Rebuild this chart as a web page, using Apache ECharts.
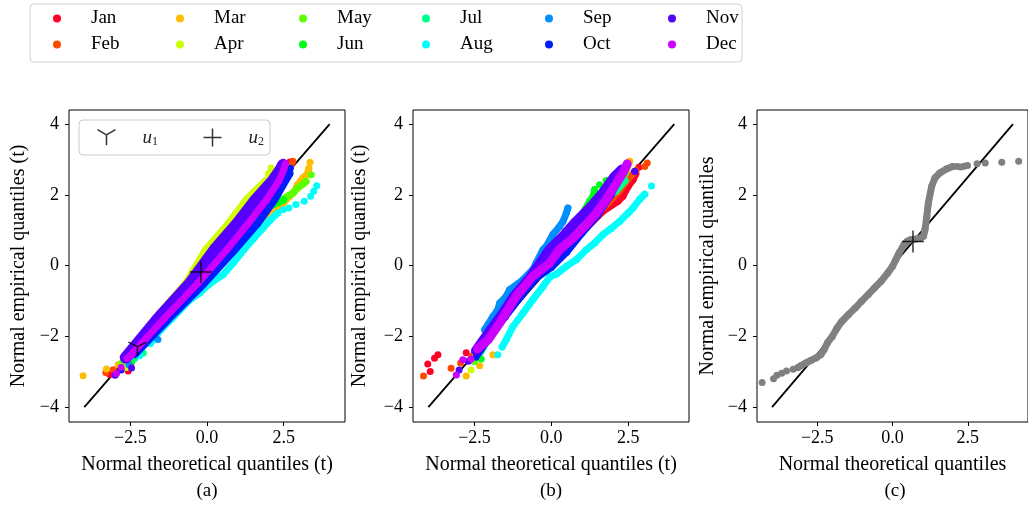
<!DOCTYPE html>
<html>
<head>
<meta charset="utf-8">
<script src="https://cdn.jsdelivr.net/npm/echarts@6/dist/echarts.min.js"></script>
<style>
  html, body { margin: 0; padding: 0; background: #fff; }
  #main { width: 1028px; height: 506px; }
</style>
</head>
<body>
<div id="main"></div>
<script>
// === Meses y colores (gist_rainbow) ===
const MONTHS = ['Jan','Feb','Mar','Apr','May','Jun','Jul','Aug','Sep','Oct','Nov','Dec'];
const COLORS = ['#ff0029','#ff4900','#ffbc00','#cfff00','#5cff00','#00ff17',
                '#00ff89','#00fffb','#008fff','#001cff','#5800ff','#cc00ff'];
const GRAY = '#808080';

// === Ejes ===
const X_TICKS = [-2.5, 0, 2.5];
const Y_TICKS = [-4, -2, 0, 2, 4];
const REF_LINE = [[-4, -4], [4, 4]];

// === Marcadores u1 / u2 ===
const U1_A = [[-2.27, -2.28]];
const U2_A = [[-0.2, -0.18]];
const U2_C = [[0.68, 0.68]];

// === Panel (a) : cuantiles por mes ('-' = hueco entre puntos sueltos) ===
const A_JAN = [[-3.17,-3.08],'-',[-2.57,-2.98],'-',[-2.48,-2.75],'-',[-2.35,-2.4],[-2.0,-2.0],[-1.0,-0.98],[0.0,0.02],[0.45,0.45],[1.0,1.12],[1.6,1.82],[1.99,2.2],[2.04,2.34],[2.15,2.5],[2.26,2.64],[2.37,2.79],'-',[2.6,2.88],'-',[2.7,2.93]];
const A_FEB = [[-3.3,-3.02],'-',[-3.06,-2.94],'-',[-2.85,-2.8],'-',[-1.72,-2.06],'-',[-2.6,-2.55],[-2.0,-2.0],[-1.0,-1.0],[0.0,0.0],[0.45,0.45],[1.0,1.05],[1.6,1.72],[2.0,2.22],[2.3,2.52],[2.55,2.75],'-',[2.75,2.85],'-',[2.8,2.95]];
const A_MAR = [[-4.04,-3.11],'-',[-3.28,-2.92],'-',[-2.9,-2.8],'-',[-2.6,-2.55],[-2.0,-2.05],[-1.0,-1.05],[0.0,-0.05],[0.5,0.45],[1.0,0.85],[1.6,1.15],[1.83,1.25],[2.04,1.4],[2.26,1.54],[2.48,1.77],[2.69,1.96],[2.85,2.1],[2.96,2.29],[3.12,2.47],[3.28,2.6],[3.32,2.75],'-',[3.36,2.92]];
const A_APR = [[-2.62,-2.88],'-',[-2.55,-2.5],[-1.7,-1.5],[-0.7,-0.5],[-0.05,0.45],[0.7,1.2],[1.28,1.87],[1.55,2.1],[1.9,2.4],'-',[2.0,2.6],'-',[2.09,2.76]];
const A_MAY = [[-2.78,-2.75],'-',[-2.5,-2.45],[-2.0,-1.98],[-1.0,-0.95],[0.0,0.08],[0.4,0.45],[1.0,1.0],[1.7,1.55],[2.1,1.72],[2.37,1.82],[2.6,1.95],[2.8,2.05],[2.96,2.2],[3.12,2.3],[3.23,2.38],'-',[3.4,2.57]];
const A_JUN = [[-2.45,-2.7],'-',[-2.2,-2.25],[-1.5,-1.45],[-0.6,-0.55],[0.4,0.42],[1.2,1.2],[1.8,1.62],[2.15,1.72],[2.35,1.8],[2.5,1.86]];
const A_JUL = [[-2.35,-2.62],'-',[-2.08,-2.47],'-',[-2.05,-2.05],[-1.5,-1.52],[-0.8,-0.85],[0.0,-0.08],[0.8,0.75],[1.6,1.6],[2.1,2.05],[2.3,2.3]];
const A_AUG = [[-2.2,-2.55],'-',[-1.85,-2.2],[-1.6,-1.9],[-1.15,-1.5],[-0.6,-1.0],[-0.24,-0.77],[0.1,-0.5],[0.53,-0.25],[0.86,0.08],[1.2,0.45],[1.5,0.75],[1.78,1.02],[2.05,1.28],[2.31,1.49],'-',[2.48,1.58],'-',[2.67,1.63],'-',[2.9,1.73],'-',[3.17,1.82],'-',[3.38,1.96],'-',[3.48,2.1],'-',[3.58,2.26]];
const A_SEP = [[-2.55,-2.8],'-',[-2.4,-2.5],[-2.0,-2.08],'-',[-1.6,-2.09],'-',[-1.5,-1.55],[-1.0,-1.05],[-0.4,-0.5],[0.4,0.35],[0.9,0.9],[1.3,1.5],'-',[1.45,1.81],'-',[1.7,1.9],[2.1,2.2],[2.4,2.52]];
const A_OCT = [[-2.8,-2.95],'-',[-2.35,-2.5],[-1.25,-1.5],[-0.1,-0.5],[0.9,0.45],[1.65,1.2],[2.2,1.87],[2.55,2.4],[2.69,2.6],'-',[2.72,2.75]];
const A_NOV = [[-3.0,-3.1],'-',[-2.46,-2.89],'-',[-2.65,-2.6],[-2.55,-2.5],[-1.6,-1.5],[-0.55,-0.5],[0.25,0.45],[1.0,1.2],[1.6,1.87],[2.15,2.4],[2.4,2.71],[2.48,2.85]];
const A_DEC = [[-2.95,-3.05],'-',[-2.8,-2.88],'-',[-2.6,-2.62],[-2.45,-2.5],[-1.4,-1.5],[-0.3,-0.5],[0.65,0.45],[1.35,1.2],[1.95,1.87],[2.35,2.4],[2.5,2.71],[2.56,2.88]];

// === Panel (b) ===
const B_JAN = [[-4.02,-2.78],'-',[-3.94,-2.99],'-',[-3.8,-2.62],'-',[-3.69,-2.52],'-',[-2.77,-2.46],'-',[-2.55,-2.55],[-2.2,-2.1],[-1.6,-1.45],[-1.0,-0.78],[-0.4,-0.2],[0.3,0.35],[1.0,0.95],[1.7,1.55],[2.17,1.82],[2.33,1.96],[2.5,2.24],[2.66,2.43],[2.75,2.6],'-',[2.85,2.78]];
const B_FEB = [[-4.16,-3.12],'-',[-3.26,-2.9],'-',[-2.95,-2.75],'-',[-2.6,-2.6],[-2.0,-1.9],[-1.2,-1.0],[-0.5,-0.3],[0.5,0.55],[1.5,1.45],[2.2,2.1],[2.55,2.5],[2.75,2.68],'-',[3.04,2.8],'-',[3.12,2.9]];
const B_MAR = [[-2.77,-3.12],'-',[-2.33,-2.83],'-',[-1.9,-2.52],'-',[-2.25,-2.3],[-1.7,-1.6],[-1.0,-0.85],[-0.4,-0.2],[0.5,0.6],[1.5,1.55],[2.2,2.3],[2.45,2.7],[2.55,2.95]];
const B_APR = [[-2.61,-2.95],'-',[-2.45,-2.55],[-2.0,-1.85],[-1.5,-1.2],[-1.0,-0.62],[-0.5,-0.12],[0.2,0.55],[1.0,1.3],[1.8,2.1],[2.3,2.55],[2.5,2.86]];
const B_MAY = [[-2.5,-2.72],'-',[-2.3,-2.3],[-1.8,-1.62],[-1.3,-1.0],[-0.5,-0.2],[0.3,0.6],[1.0,1.3],[1.5,1.75],[2.0,2.2],[2.4,2.6]];
const B_JUN = [[-2.28,-2.64],'-',[-2.2,-2.15],[-1.7,-1.5],[-1.2,-0.95],[-0.5,-0.2],[0.3,0.62],[0.9,1.3],[1.25,1.82],[1.36,1.96],[1.41,2.15],'-',[1.57,2.29],'-',[1.79,2.41]];
const B_JUL = [[-2.3,-2.45],[-1.8,-1.7],[-1.3,-1.05],[-0.7,-0.35],[-0.2,0.28],[0.4,0.88],[1.0,1.38],[1.6,1.85],[2.1,2.1],[2.4,2.4]];
const B_AUG = [[-1.74,-2.52],'-',[-1.6,-2.3],[-1.47,-2.1],[-1.25,-1.72],[-0.92,-1.34],[-0.6,-0.96],[-0.27,-0.59],[-0.05,-0.32],[0.16,-0.24],[0.49,-0.02],[0.81,0.17],[1.14,0.45],[1.41,0.64],[1.68,0.88],[1.96,1.06],[2.22,1.25],[2.5,1.49],[2.66,1.63],[2.87,1.87],[3.04,2.02],'-',[3.26,2.25]];
const B_SEP = [[-2.44,-2.38],[-2.33,-2.24],'-',[-2.17,-1.81],[-1.9,-1.44],[-1.74,-1.25],[-1.68,-1.06],[-1.47,-0.87],[-1.36,-0.68],[-0.92,-0.4],[-0.6,-0.11],[-0.49,0.08],[-0.27,0.45],[-0.16,0.55],[0.05,0.88],[0.27,1.11],[0.38,1.25],[0.49,1.49],[0.54,1.63]];
const B_OCT = [[-2.45,-2.58],[-2.0,-2.02],[-1.5,-1.45],[-1.0,-0.88],[-0.5,-0.36],[0.0,-0.05],[0.5,0.38],[1.0,0.92],[1.5,1.42],[1.95,2.0],[2.15,2.4],'-',[2.71,2.67]];
const B_NOV = [[-3.0,-2.95],'-',[-2.7,-2.7],'-',[-2.45,-2.4],[-2.0,-1.85],[-1.6,-1.38],[-1.2,-0.85],[-0.7,-0.35],[-0.06,0.45],[0.38,0.83],[0.81,1.25],[1.25,1.63],[1.68,2.06],[2.06,2.52],[2.3,2.72],'-',[2.72,2.66]];
const B_DEC = [[-3.09,-3.09],'-',[-2.88,-2.66],'-',[-2.61,-2.64],'-',[-2.4,-2.35],[-2.06,-2.1],[-1.68,-1.62],[-1.14,-0.87],[-0.6,-0.3],[-0.06,0.07],[0.27,0.45],[0.71,0.78],[1.14,1.16],[1.47,1.49],[1.79,1.87],[2.12,2.33],[2.35,2.65],[2.47,2.88]];

// === Panel (c) : serie única ===
const C_ALL = [[-4.33,-3.3],'-',[-3.95,-3.2],'-',[-3.84,-3.1],'-',[-3.68,-3.04],'-',[-3.52,-2.98],'-',[-3.3,-2.93],'-',[-3.14,-2.88],[-3.03,-2.82],[-2.87,-2.75],[-2.71,-2.68],[-2.54,-2.61],[-2.38,-2.51],[-2.27,-2.37],[-2.16,-2.18],[-2.0,-2.0],[-1.84,-1.76],[-1.68,-1.57],[-1.46,-1.38],[-1.24,-1.2],[-1.03,-1.01],[-0.81,-0.82],[-0.6,-0.63],[-0.38,-0.44],[-0.16,-0.21],[0.0,-0.02],[0.11,0.17],[0.22,0.36],[0.38,0.59],[0.49,0.69],[0.6,0.73],[0.76,0.75],[0.92,0.78],[1.03,0.83],[1.08,1.02],[1.14,1.39],[1.19,1.77],[1.3,2.24],[1.41,2.48],[1.57,2.62],[1.79,2.73],[2.0,2.8],'-',[2.15,2.8],'-',[2.27,2.79],'-',[2.38,2.81],'-',[2.49,2.83],'-',[2.81,2.88],'-',[3.08,2.9],'-',[3.63,2.92],'-',[4.19,2.95]];

const PANEL_A = [A_JAN,A_FEB,A_MAR,A_APR,A_MAY,A_JUN,A_JUL,A_AUG,A_SEP,A_OCT,A_NOV,A_DEC];
const PANEL_B = [B_JAN,B_FEB,B_MAR,B_APR,B_MAY,B_JUN,B_JUL,B_AUG,B_SEP,B_OCT,B_NOV,B_DEC];

// === Estilo ===
const FONT = '"Liberation Serif", "DejaVu Serif", serif';
const BLACK = '#000';
const TRI = 'path://M10,10 L10,20 M10,10 L1.34,5 M10,10 L18.66,5';
const PLUS = 'path://M10,0 L10,20 M0,10 L20,10';
const BOXES = [{ left: 69, top: 110 }, { left: 413, top: 110 }, { left: 757, top: 110 }];
const X_MAX = [4.5, 4.48, 4.5];
const X_NAMES = ['Normal theoretical quantiles (t)', 'Normal theoretical quantiles (t)', 'Normal theoretical quantiles'];
const Y_NAMES = ['Normal empirical quantiles (t)', 'Normal empirical quantiles (t)', 'Normal empirical quantiles'];
const Y_GAPS = [40, 43, 39];
const TAGS = ['(a)', '(b)', '(c)'];
// grosor de banda por mes (los puntos densos de Nov cubren más)
const WIDTH_A = [7, 7, 7, 7, 7, 7, 7, 7, 7, 8, 12, 7];
const WIDTH_B = [7, 7, 7, 7, 7, 7, 7, 7, 7, 7, 10, 9];

const fmt = d => v => (v < 0 ? '\u2212' : '') + Math.abs(v).toFixed(d);
const tick = { fontFamily: FONT, fontSize: 18, color: BLACK };
const label = { fontFamily: FONT, fontSize: 20, color: BLACK };

const grid = BOXES.map(b => ({ left: b.left, top: b.top, width: 276, height: 312,
  show: true, borderColor: BLACK, borderWidth: 1, backgroundColor: 'transparent' }));

const xAxis = BOXES.map((b, i) => ({
  gridIndex: i, type: 'value', min: -4.5, max: X_MAX[i],
  axisLine: { show: false, onZero: false }, splitLine: { show: false },
  axisTick: { customValues: X_TICKS, length: 4, lineStyle: { color: BLACK } },
  axisLabel: { customValues: X_TICKS, formatter: fmt(1), margin: 7, ...tick },
  name: X_NAMES[i], nameLocation: 'middle', nameGap: 33, nameTextStyle: label
}));
const yAxis = BOXES.map((b, i) => ({
  gridIndex: i, type: 'value', min: -4.42, max: 4.4,
  axisLine: { show: false, onZero: false }, splitLine: { show: false },
  axisTick: { customValues: Y_TICKS, length: 4, lineStyle: { color: BLACK } },
  axisLabel: { customValues: Y_TICKS, formatter: fmt(0), margin: 10, ...tick },
  name: Y_NAMES[i], nameLocation: 'middle', nameGap: Y_GAPS[i], nameTextStyle: label
}));

// === Series (cada mes en su propia capa z, en orden) ===
const series = [];
let layer = 3;
function addRef(i){
  series.push({ type: 'line', xAxisIndex: i, yAxisIndex: i, data: REF_LINE, showSymbol: false,
    lineStyle: { color: BLACK, width: 1.8 }, silent: true, z: 2 });
}
function addBand(i, data, color, name, w){
  layer += 1;
  series.push({ type: 'line', name: name + ' band', xAxisIndex: i, yAxisIndex: i,
    data: data.map(p => p === '-' ? ['-', '-'] : p), showSymbol: false, connectNulls: false,
    lineStyle: { color, width: w, cap: 'round', join: 'round' }, silent: true, z: layer });
  series.push({ type: 'scatter', name, xAxisIndex: i, yAxisIndex: i,
    data: data.filter(p => p !== '-'), symbolSize: 7,
    itemStyle: { color, opacity: 1 }, silent: true, z: layer });
}
function addMarker(i, data, symbol, size, name, offset){
  series.push({ type: 'scatter', name, xAxisIndex: i, yAxisIndex: i, data, symbol,
    symbolSize: size, symbolKeepAspect: true, symbolOffset: offset || [0, 0],
    itemStyle: { color: 'none', borderColor: BLACK, borderWidth: 1.5 }, silent: true, z: 100 });
}

[0, 1, 2].forEach(addRef);
PANEL_A.forEach((d, m) => addBand(0, d, COLORS[m], MONTHS[m], WIDTH_A[m]));
PANEL_B.forEach((d, m) => addBand(1, d, COLORS[m], MONTHS[m], WIDTH_B[m]));
addBand(2, C_ALL, GRAY, 'all', 7);
addMarker(0, U1_A, TRI, [18, 15.6], 'u1', [0, 2.6]);
addMarker(0, U2_A, PLUS, [22, 22], 'u2');
addMarker(2, U2_C, PLUS, [22, 22], 'u2');

// === Leyendas ===
const legendBase = { orient: 'horizontal', icon: 'circle', itemWidth: 8, itemHeight: 8,
  itemGap: 25, left: 53, padding: 0, selectedMode: false, z: 120,
  formatter: '{t|{name}}',
  textStyle: { padding: [0, 0, 0, 25],
    rich: { t: { fontFamily: FONT, fontSize: 19, color: BLACK, width: 60, lineHeight: 20 } } } };
const markStyle = { color: 'none', borderColor: BLACK, borderWidth: 1.5 };

const option = {
  animation: false,
  backgroundColor: '#fff',
  grid, xAxis, yAxis, series,
  legend: [
    { ...legendBase, top: 9,  data: MONTHS.filter((_, i) => i % 2 === 0) },
    { ...legendBase, top: 35, data: MONTHS.filter((_, i) => i % 2 === 1) },
    { left: 79, top: 120, padding: [6, 6, 6, 16], itemGap: 43, itemWidth: 18, itemHeight: 18,
      selectedMode: false, z: 120, borderColor: '#cccccc', borderWidth: 1, borderRadius: 4,
      backgroundColor: 'rgba(255,255,255,0.85)',
      data: [{ name: 'u1', icon: TRI, itemStyle: markStyle }, { name: 'u2', icon: PLUS, itemStyle: markStyle }],
      formatter: n => '{u|u}{s|' + n.slice(1) + '}',
      textStyle: { padding: [0, 0, 0, 22],
        rich: { u: { fontFamily: FONT, fontStyle: 'italic', fontSize: 19, color: '#222' },
                s: { fontFamily: FONT, fontSize: 12, color: '#222', padding: [8, 0, 0, 0] } } } }
  ],
  graphic: [
    { type: 'rect', z: 0, shape: { x: 30, y: 4, width: 712, height: 58, r: 4 },
      style: { fill: '#fff', stroke: '#d0d0d0', lineWidth: 1 } },
    ...TAGS.map((t, i) => ({ type: 'text', x: BOXES[i].left + 138, y: 491,
      style: { text: t, align: 'center', verticalAlign: 'middle', font: '19px ' + FONT, fill: BLACK } }))
  ]
};

echarts.init(document.getElementById('main'), null, { renderer: 'canvas' }).setOption(option);
</script>
</body>
</html>
